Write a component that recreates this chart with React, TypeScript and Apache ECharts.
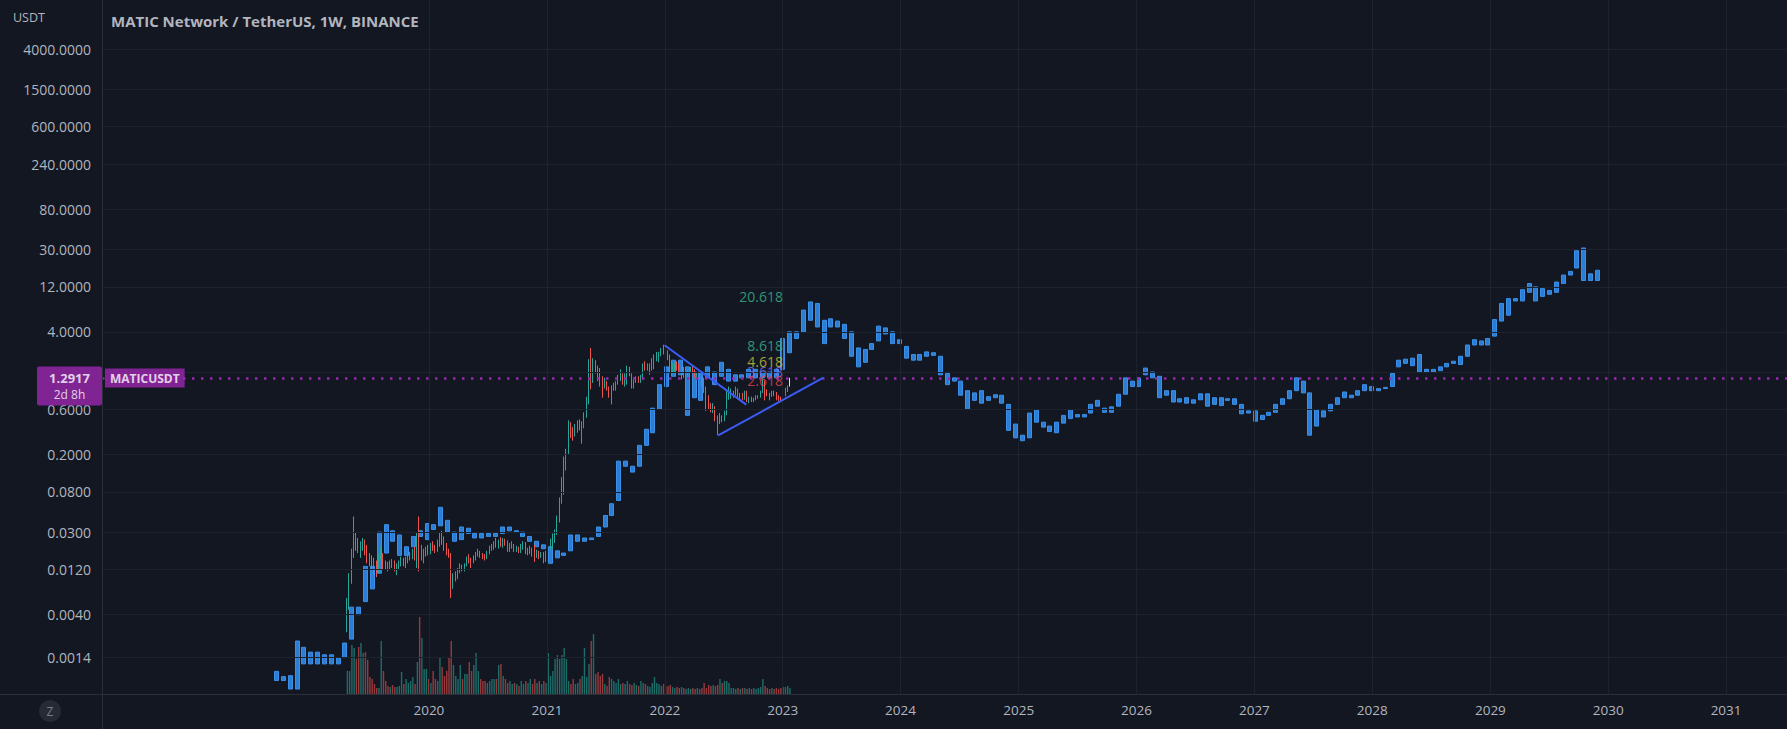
import React, { useEffect, useRef } from "react";
import * as echarts from "echarts";

const W = 1787;
const H = 729;
const BG = "#131722";
const TEXT = "#b2b5be";
const GRID = "#1e222d";
const BORDER = "#2a2e39";
const FONT = "'Open Sans', 'Noto Sans', sans-serif";
const UP = "#26a69a";
const DOWN = "#ef5350";
const BLUE = "#2b7ed3";
const PURPLE = "#9c27b0";
const TREND = "#3a5cf4";
const DAY = 86400000;

// ---------- real weekly candles (MATIC/USDT, Binance) ----------
const candleStart = Date.UTC(2019, 3, 22);
const firstOpen = 0.0028;
const closes = [
  0.005, 0.0095, 0.018, 0.026, 0.022, 0.02, 0.021, 0.023, 0.0185, 0.016,
  0.015, 0.0135, 0.0125, 0.0115, 0.016, 0.0175, 0.0135, 0.013, 0.0125, 0.014,
  0.0135, 0.0125, 0.013, 0.014, 0.015, 0.0145, 0.0155, 0.0165, 0.017, 0.0185,
  0.017, 0.028, 0.016, 0.017, 0.018, 0.0195, 0.0185, 0.021, 0.02, 0.0195,
  0.023, 0.027, 0.024, 0.021, 0.018, 0.017, 0.009, 0.01, 0.0105, 0.0115,
  0.013, 0.012, 0.0135, 0.0155, 0.015, 0.0145, 0.016, 0.0175, 0.018, 0.017,
  0.0165, 0.016, 0.018, 0.0205, 0.021, 0.0225, 0.022, 0.023, 0.0225, 0.0235,
  0.023, 0.02, 0.0215, 0.0215, 0.0195, 0.02, 0.019, 0.021, 0.0225, 0.019,
  0.019, 0.0195, 0.0175, 0.017, 0.018, 0.017, 0.0175, 0.0155, 0.018,
  0.0215, 0.023, 0.0255, 0.029, 0.041, 0.062, 0.095, 0.16, 0.21, 0.39, 0.34,
  0.33, 0.39, 0.4, 0.38, 0.41, 0.53, 0.75, 1.8, 1.55, 1.85,
  1.6, 1.45, 1.15, 1.1, 1.1, 1.0, 0.82, 1.0, 1.05, 1.18,
  1.35, 1.4, 1.15, 1.3, 1.5, 1.4, 1.1, 1.2, 1.25, 1.2,
  1.3, 1.75, 1.65, 1.65, 1.7, 1.95, 2.1, 2.3, 2.35, 2.55,
  2.5, 2.3, 2.15, 1.7, 1.7, 1.75, 1.65, 1.55, 1.55, 1.4,
  1.4, 1.55, 1.6, 1.5, 1.35, 1.35, 1.3, 1.15, 0.95, 0.8,
  0.65, 0.6, 0.6, 0.48, 0.45, 0.5, 0.47, 0.57, 0.8, 0.9,
  0.9, 0.9, 0.95, 0.82, 0.85, 0.8, 0.92, 0.75, 0.78, 0.75,
  0.76, 0.8, 0.82, 0.93, 1.15, 0.92, 0.88, 0.83, 0.92, 0.85,
  0.8, 0.77, 0.76, 0.9, 0.98, 1.06, 1.29,
];
const highs = [
  0.006, 0.011, 0.02, 0.044, 0.03, 0.026, 0.024, 0.026, 0.025, 0.022,
  0.018, 0.017, 0.016, 0.015, 0.0175, 0.021, 0.018, 0.015, 0.0145, 0.015,
  0.0155, 0.015, 0.014, 0.015, 0.0165, 0.016, 0.0165, 0.0175, 0.0185, 0.02,
  0.021, 0.03, 0.044, 0.022, 0.02, 0.021, 0.022, 0.023, 0.024, 0.022,
  0.025, 0.03, 0.031, 0.027, 0.023, 0.02, 0.018, 0.011, 0.0115, 0.0125,
  0.014, 0.0135, 0.014, 0.0165, 0.0175, 0.016, 0.017, 0.0185, 0.02, 0.019,
  0.018, 0.0175, 0.019, 0.0215, 0.0225, 0.024, 0.026, 0.025, 0.0265, 0.026,
  0.0255, 0.0245, 0.023, 0.024, 0.0225, 0.0215, 0.021, 0.0225, 0.024, 0.0235,
  0.0205, 0.0215, 0.0205, 0.022, 0.0195, 0.019, 0.0185, 0.0185, 0.019,
  0.024, 0.0255, 0.029, 0.032, 0.045, 0.07, 0.115, 0.19, 0.23, 0.46, 0.44,
  0.39, 0.42, 0.46, 0.47, 0.45, 0.56, 0.82, 2.05, 2.7, 2.1,
  2.0, 1.75, 1.65, 1.35, 1.3, 1.2, 1.05, 1.08, 1.15, 1.2,
  1.4, 1.6, 1.45, 1.45, 1.75, 1.7, 1.45, 1.25, 1.35, 1.35,
  1.4, 1.85, 1.95, 1.85, 1.85, 2.1, 2.3, 2.45, 2.45, 2.7,
  2.92, 2.6, 2.55, 2.3, 1.85, 1.9, 1.95, 1.85, 1.7, 1.7,
  1.5, 1.6, 1.7, 1.75, 1.6, 1.45, 1.5, 1.35, 1.3, 1.05,
  0.85, 0.7, 0.7, 0.65, 0.52, 0.55, 0.52, 0.58, 0.95, 1.05,
  1.0, 0.95, 1.05, 1.0, 0.9, 0.9, 0.95, 0.95, 0.82, 0.82,
  0.8, 0.85, 0.85, 0.95, 1.29, 1.22, 0.98, 0.9, 0.95, 0.95,
  0.92, 0.85, 0.82, 0.92, 1.02, 1.08, 1.3,
];
const lows = [
  0.0026, 0.0045, 0.0085, 0.016, 0.019, 0.018, 0.016, 0.019, 0.017, 0.014,
  0.013, 0.012, 0.0105, 0.01, 0.011, 0.015, 0.012, 0.012, 0.0115, 0.012,
  0.0125, 0.0115, 0.0105, 0.012, 0.013, 0.013, 0.0125, 0.014, 0.015, 0.0155,
  0.015, 0.0125, 0.0115, 0.015, 0.014, 0.0165, 0.017, 0.0175, 0.019, 0.018,
  0.0185, 0.021, 0.022, 0.019, 0.017, 0.016, 0.006, 0.0075, 0.009, 0.0095,
  0.011, 0.0115, 0.0115, 0.013, 0.014, 0.0125, 0.014, 0.015, 0.0165, 0.016,
  0.0155, 0.015, 0.0155, 0.0175, 0.019, 0.0195, 0.0205, 0.02, 0.021, 0.0205,
  0.0215, 0.0185, 0.0185, 0.02, 0.0185, 0.0185, 0.018, 0.018, 0.0195, 0.0175,
  0.017, 0.0175, 0.0165, 0.0145, 0.016, 0.0155, 0.016, 0.014, 0.0145,
  0.0165, 0.0195, 0.02, 0.023, 0.028, 0.038, 0.06, 0.075, 0.135, 0.2, 0.3,
  0.28, 0.31, 0.34, 0.36, 0.26, 0.38, 0.49, 0.68, 0.98, 1.15,
  1.45, 1.2, 1.05, 0.8, 1.0, 0.95, 0.8, 0.68, 0.95, 0.95,
  1.1, 1.2, 1.1, 1.05, 1.1, 1.35, 1.0, 1.0, 1.15, 1.15,
  1.15, 1.25, 1.55, 1.55, 1.4, 1.55, 1.6, 1.95, 1.9, 2.2,
  2.3, 1.9, 2.0, 1.45, 1.45, 1.45, 1.55, 1.45, 1.25, 1.3,
  1.3, 1.35, 1.5, 1.45, 1.3, 1.25, 1.25, 1.05, 0.9, 0.58,
  0.6, 0.56, 0.55, 0.45, 0.32, 0.42, 0.44, 0.45, 0.52, 0.76,
  0.78, 0.8, 0.85, 0.8, 0.75, 0.75, 0.76, 0.72, 0.7, 0.72,
  0.72, 0.75, 0.78, 0.8, 0.9, 0.75, 0.83, 0.75, 0.82, 0.83,
  0.75, 0.74, 0.73, 0.75, 0.83, 0.92, 1.05,
];
// weekly volume (relative units, 10M MATIC)
const volumes = [
  23, 23, 49, 46, 35, 47, 51, 41, 42, 34,
  17, 15, 10, 6, 6, 53, 23, 13, 8, 7,
  9, 7, 7, 8, 22, 10, 15, 11, 13, 17,
  10, 32, 77, 56, 25, 25, 15, 11, 23, 15,
  13, 37, 27, 18, 23, 37, 53, 29, 18, 15,
  29, 15, 20, 20, 32, 23, 29, 41, 23, 15,
  13, 13, 11, 13, 15, 15, 15, 29, 30, 18,
  15, 11, 13, 10, 11, 10, 8, 13, 10, 13,
  11, 15, 10, 15, 11, 13, 10, 13, 11, 41,
  18, 23, 35, 39, 35, 39, 46, 35, 13, 10,
  15, 10, 11, 15, 18, 46, 17, 30, 53, 60,
  20, 22, 18, 20, 10, 8, 17, 15, 13, 11,
  15, 10, 11, 10, 13, 10, 9, 11, 9, 8,
  13, 11, 10, 8, 7, 11, 17, 11, 10, 8,
  10, 7, 8, 9, 7, 6, 7, 6, 7, 6,
  5, 6, 5, 6, 5, 6, 5, 6, 11, 6,
  9, 8, 9, 8, 9, 15, 11, 13, 13, 11,
  6, 6, 5, 6, 5, 6, 6, 5, 6, 5,
  6, 5, 6, 7, 15, 8, 6, 5, 6, 5,
  6, 5, 6, 7, 7, 8, 6,
];

// ---------- blue "bars pattern" projection ----------
const blueStart = Date.UTC(2018, 8, 16);
const blueStepDays = 21.2;
const blueOpen = [
  0.001, 0.0008, 0.0009, 0.00065, 0.0018, 0.0012, 0.0016, 0.0012, 0.0015, 0.0012,
  0.0014, 0.0022, 0.0048, 0.0055, 0.013, 0.011, 0.036, 0.024, 0.028, 0.017,
  0.021, 0.027, 0.025, 0.036, 0.035, 0.04, 0.03, 0.025, 0.033, 0.029,
  0.026, 0.029, 0.027, 0.029, 0.034, 0.031, 0.03, 0.027, 0.024, 0.022,
  0.021, 0.016, 0.018, 0.019, 0.028, 0.024, 0.026, 0.027, 0.034, 0.045,
  0.065, 0.17, 0.15, 0.15, 0.25, 0.34, 0.6, 1.05, 1.35, 2.0,
  1.7, 0.8, 1.5, 1.3, 1.5, 1.35, 1.6, 1.2, 1.4, 1.3,
  1.6, 1.3, 1.5, 1.3, 1.6, 2.4, 4.0, 4.0, 5.3, 8.0,
  5.3, 4.5, 5.2, 4.8, 4.0, 2.7, 1.9, 2.6, 3.2, 4.4,
  4.0, 3.0, 2.8, 2.3, 2.0, 2.2, 2.4, 2.2, 1.45, 1.2,
  1.2, 0.95, 0.9, 0.95, 0.75, 0.8, 0.85, 0.68, 0.42, 0.32,
  0.3, 0.6, 0.44, 0.4, 0.34, 0.43, 0.6, 0.5, 0.5, 0.55,
  0.75, 0.62, 0.56, 0.65, 0.87, 1.2, 1.05, 1.4, 1.5, 1.35,
  0.85, 0.95, 0.72, 0.8, 0.7, 0.76, 0.88, 0.68, 0.8, 0.75,
  0.78, 0.68, 0.55, 0.58, 0.47, 0.52, 0.56, 0.68, 0.78, 0.95,
  1.2, 0.9, 0.4, 0.5, 0.58, 0.68, 0.8, 0.85, 0.85, 0.95,
  1.05, 0.95, 1.0, 1.05, 1.7, 1.85, 2.1, 2.3, 1.5, 1.6,
  1.55, 1.7, 1.85, 1.8, 2.2, 2.9, 3.2, 2.9, 3.6, 5.2,
  6.0, 9.0, 8.5, 10.5, 12.0, 9.5, 11.0, 10.5, 13.0, 16.0,
  19.0, 31.0, 14.0, 14.0,
];
const blueClose = [
  0.0008, 0.00088, 0.00065, 0.0021, 0.0012, 0.0016, 0.0012, 0.0015, 0.0012, 0.0014,
  0.002, 0.0048, 0.004, 0.013, 0.0075, 0.03, 0.018, 0.031, 0.017, 0.021,
  0.027, 0.031, 0.037, 0.032, 0.055, 0.03, 0.024, 0.034, 0.029, 0.026,
  0.029, 0.027, 0.029, 0.034, 0.031, 0.03, 0.027, 0.024, 0.021, 0.02,
  0.014, 0.019, 0.017, 0.028, 0.024, 0.026, 0.025, 0.034, 0.045, 0.06,
  0.17, 0.15, 0.13, 0.25, 0.37, 0.62, 1.1, 1.7, 2.0, 1.4,
  0.52, 1.5, 0.75, 1.7, 1.1, 1.9, 1.2, 1.4, 1.3, 1.6,
  1.3, 1.5, 1.3, 1.6, 3.4, 4.0, 3.4, 6.8, 8.3, 4.5,
  3.0, 5.5, 4.5, 3.4, 2.2, 1.7, 2.6, 3.0, 4.6, 3.8,
  3.0, 3.3, 2.1, 2.0, 2.3, 2.45, 2.25, 1.4, 1.1, 1.3,
  0.85, 0.6, 0.75, 0.7, 0.82, 0.86, 0.7, 0.36, 0.3, 0.28,
  0.55, 0.44, 0.39, 0.35, 0.44, 0.52, 0.48, 0.53, 0.53, 0.68,
  0.65, 0.56, 0.64, 0.87, 1.3, 1.05, 1.3, 1.65, 1.3, 0.8,
  0.95, 0.72, 0.78, 0.7, 0.76, 0.88, 0.65, 0.8, 0.66, 0.78,
  0.68, 0.54, 0.58, 0.45, 0.52, 0.56, 0.68, 0.78, 0.95, 1.3,
  0.9, 0.32, 0.6, 0.58, 0.68, 0.8, 0.92, 0.8, 0.95, 1.1,
  0.95, 1.0, 1.03, 1.45, 2.0, 2.05, 1.75, 1.5, 1.6, 1.5,
  1.7, 1.85, 1.95, 2.2, 2.9, 3.3, 2.9, 3.4, 5.4, 8.0,
  9.0, 8.5, 11.2, 13.0, 8.5, 11.5, 10.0, 13.5, 16.0, 17.5,
  29.0, 14.0, 16.5, 18.0,
];

// ---------- axes / annotations ----------
const yTicks = [4000, 1500, 600, 240, 80, 30, 12, 4, 1.5, 0.6, 0.2, 0.08, 0.03, 0.012, 0.004, 0.0014];
const hiddenTickLabels = [1.5]; // covered by the price tag in the reference
const yearTicks = [2020, 2021, 2022, 2023, 2024, 2025, 2026, 2027, 2028, 2029, 2030, 2031];
const lastPrice = 1.2917;
const countdown = "2d 8h";
const symbolName = "MATICUSDT";
const titleText = "MATIC Network / TetherUS, 1W, BINANCE";
const trendLines = [
  [[Date.UTC(2021, 11, 31), 2.877], [Date.UTC(2022, 8, 10), 0.676]],
  [[Date.UTC(2022, 5, 15), 0.318], [Date.UTC(2023, 4, 7), 1.304]],
];
const fibTime = Date.UTC(2023, 0, 2);
const fibLabels = [
  { text: "20.618", color: "#36b88c", value: 9.48 },
  { text: "8.618", color: "#36b88c", value: 2.84 },
  { text: "4.618", color: "#cdc53a", value: 1.96 },
  { text: "3.618", color: "#7f73f2", value: 1.5 },
  { text: "2.618", color: "#e5434f", value: 1.23 },
];

function yearToTs(y: number) {
  const yi = Math.floor(y);
  const s = Date.UTC(yi, 0, 1);
  const e = Date.UTC(yi + 1, 0, 1);
  return s + (y - yi) * (e - s);
}
const X_MIN = yearToTs(2017.226);
const X_MAX = yearToTs(2031.517);
const Y_MIN = Math.pow(10, -3.2399);
const Y_MAX = Math.pow(10, 4.1219);

function buildOption() {
  const candleData = closes.map((c, i) => {
    const o = i === 0 ? firstOpen : closes[i - 1];
    const t = candleStart + i * 7 * DAY;
    const lo = Math.min(lows[i], o, c);
    const hi = Math.max(highs[i], o, c);
    const item: any = { value: [t, o, c, lo, hi] };
    if (i === closes.length - 1) {
      item.itemStyle = { color: "#dde6f3", color0: "#dde6f3", borderColor: "#dde6f3", borderColor0: "#dde6f3" };
    }
    return item;
  });
  const volumeData = volumes.map((v, i) => {
    const o = i === 0 ? firstOpen : closes[i - 1];
    const up = closes[i] >= o;
    return {
      value: [candleStart + i * 7 * DAY, v],
      itemStyle: { color: up ? "rgba(38,166,154,0.6)" : "rgba(239,83,80,0.6)" },
    };
  });
  const blueData = blueOpen.map((o, k) => {
    const c = blueClose[k];
    const t = blueStart + k * blueStepDays * DAY;
    return [t, o, c, Math.min(o, c), Math.max(o, c)];
  });

  const gridLines: any[] = [];
  yTicks.forEach((v) => {
    const hidden = hiddenTickLabels.indexOf(v) >= 0;
    gridLines.push({
      yAxis: v,
      label: {
        show: !hidden,
        position: "start",
        distance: 11,
        formatter: v.toFixed(4),
        color: TEXT,
        fontSize: 14,
        fontFamily: FONT,
      },
    });
  });
  yearTicks.forEach((y) => {
    gridLines.push({
      xAxis: Date.UTC(y, 0, 1),
      label: { show: true, position: "start", distance: 9, formatter: String(y), color: TEXT, fontSize: 13.5, fontFamily: FONT },
    });
  });

  const series: any[] = [
    {
      type: "scatter",
      name: "grid",
      xAxisIndex: 0,
      yAxisIndex: 0,
      data: [[X_MIN, 1]],
      symbolSize: 0,
      silent: true,
      clip: false,
      z: 1,
      markLine: {
        silent: true,
        animation: false,
        precision: 10,
        symbol: ["none", "none"],
        lineStyle: { color: GRID, width: 1, type: "solid" },
        emphasis: { disabled: true },
        data: gridLines,
      },
    },
    {
      type: "bar",
      name: "volume",
      xAxisIndex: 1,
      yAxisIndex: 1,
      data: volumeData,
      barWidth: 1.4,
      silent: true,
      z: 2,
    },
    {
      type: "candlestick",
      name: "pattern",
      xAxisIndex: 0,
      yAxisIndex: 0,
      data: blueData,
      barWidth: 4.5,
      silent: true,
      z: 3,
      itemStyle: { color: BLUE, color0: BLUE, borderColor: "#3a8fe8", borderColor0: "#3a8fe8", borderWidth: 1 },
    },
    {
      type: "candlestick",
      name: "MATICUSDT",
      xAxisIndex: 0,
      yAxisIndex: 0,
      data: candleData,
      barWidth: 1,
      silent: true,
      z: 4,
      itemStyle: { color: UP, color0: DOWN, borderColor: UP, borderColor0: DOWN, borderWidth: 1 },
    },
    ...trendLines.map((pts) => ({
      type: "line",
      xAxisIndex: 0,
      yAxisIndex: 0,
      data: pts,
      symbol: "none",
      silent: true,
      z: 5,
      lineStyle: { color: TREND, width: 2 },
    })),
    {
      type: "scatter",
      name: "price",
      xAxisIndex: 0,
      yAxisIndex: 0,
      symbolSize: 0,
      silent: true,
      clip: false,
      z: 8,
      data: [
        {
          value: [X_MIN, lastPrice],
          label: {
            show: true,
            position: "left",
            distance: 0,
            offset: [0, 8],
            backgroundColor: PURPLE,
            padding: [3, 10, 3, 10],
            borderRadius: 2,
            formatter: `{a|${lastPrice.toFixed(4)}}\n{b|${countdown}}`,
            rich: {
              a: { color: "#ffffff", fontWeight: "bold", fontSize: 13, lineHeight: 17, align: "center", width: 45, fontFamily: FONT },
              b: { color: "#ffffff", fontSize: 12, lineHeight: 16, align: "center", width: 45, fontFamily: FONT },
            },
          },
        },
        {
          value: [X_MIN, lastPrice],
          label: {
            show: true,
            position: "right",
            distance: 3,
            backgroundColor: PURPLE,
            padding: [2, 5, 2, 5],
            color: "#ffffff",
            fontWeight: "bold",
            fontSize: 12,
            lineHeight: 15,
            fontFamily: FONT,
            formatter: symbolName,
          },
        },
      ],
      markLine: {
        silent: true,
        animation: false,
        precision: 10,
        symbol: ["none", "none"],
        label: { show: false },
        lineStyle: { color: PURPLE, width: 2.5, type: [2.5, 6.5] },
        data: [{ yAxis: lastPrice }],
      },
    },
    {
      type: "scatter",
      name: "fib",
      xAxisIndex: 0,
      yAxisIndex: 0,
      symbolSize: 0,
      silent: true,
      z: 9,
      data: fibLabels.map((f) => ({
        value: [fibTime, f.value],
        label: { show: true, position: "left", distance: 0, formatter: f.text, color: f.color, fontSize: 14, fontFamily: FONT },
      })),
    },
  ];

  const hiddenAxis = {
    axisLine: { show: false },
    axisTick: { show: false },
    axisLabel: { show: false },
    splitLine: { show: false },
  };

  return {
    animation: false,
    useUTC: true,
    backgroundColor: BG,
    textStyle: { fontFamily: FONT },
    grid: [
      { left: 102, right: 0, top: 0, bottom: 35 },
      { left: 102, right: 0, bottom: 35, height: 150 },
    ],
    xAxis: [
      { type: "time", gridIndex: 0, min: X_MIN, max: X_MAX, ...hiddenAxis },
      { type: "time", gridIndex: 1, min: X_MIN, max: X_MAX, ...hiddenAxis },
    ],
    yAxis: [
      { type: "log", logBase: 10, gridIndex: 0, min: Y_MIN, max: Y_MAX, ...hiddenAxis },
      { type: "value", gridIndex: 1, min: 0, max: 150, ...hiddenAxis },
    ],
    series,
    graphic: [
      { type: "line", silent: true, z: 100, shape: { x1: 102.5, y1: 0, x2: 102.5, y2: H }, style: { stroke: BORDER, lineWidth: 1 } },
      { type: "line", silent: true, z: 100, shape: { x1: 0, y1: 694.5, x2: W, y2: 694.5 }, style: { stroke: BORDER, lineWidth: 1 } },
      { type: "circle", silent: true, z: 100, shape: { cx: 50, cy: 711, r: 11 }, style: { fill: "#262a35" } },
      {
        type: "text", silent: true, z: 101, x: 50, y: 711,
        style: { text: "Z", fill: "#787b86", fontSize: 12, fontFamily: FONT, align: "center", verticalAlign: "middle", textAlign: "center", textVerticalAlign: "middle" },
      },
      {
        type: "text", silent: true, z: 101, x: 13, y: 17,
        style: { text: "USDT", fill: TEXT, fontSize: 12.5, fontFamily: FONT, verticalAlign: "middle", textVerticalAlign: "middle" },
      },
      {
        type: "text", silent: true, z: 101, x: 111, y: 21,
        style: { text: titleText, fill: TEXT, fontSize: 15, fontWeight: "bold", fontFamily: FONT, verticalAlign: "middle", textVerticalAlign: "middle" },
      },
    ],
  };
}

export default function App() {
  const ref = useRef<HTMLDivElement>(null);
  useEffect(() => {
    document.body.style.margin = "0";
    document.body.style.background = BG;
    const chart = echarts.init(ref.current as HTMLDivElement, undefined, { renderer: "svg", width: W, height: H });
    chart.setOption(buildOption() as any);
    return () => chart.dispose();
  }, []);
  return <div ref={ref} style={{ position: "absolute", left: 0, top: 0, width: W, height: H, background: BG }} />;
}
